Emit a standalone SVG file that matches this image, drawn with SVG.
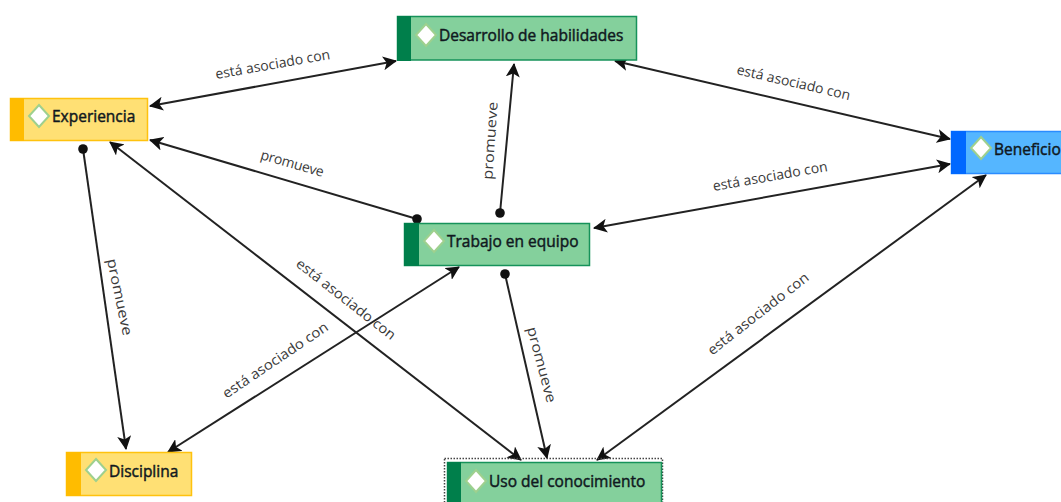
<svg xmlns="http://www.w3.org/2000/svg" width="1061" height="502" viewBox="0 0 1061 502">
<style>
.t{font-family:"Open Sans","Noto Sans","DejaVu Sans",sans-serif;font-size:15.5px;fill:#101820;stroke:#101820;stroke-width:.45px}
.l{font-family:"Open Sans","Noto Sans","DejaVu Sans",sans-serif;font-size:14px;fill:#3a3a3a;text-anchor:middle}
.c{fill:none;stroke:#222;stroke-width:2px}
.d{fill:#fff;stroke:#9ed08e;stroke-width:2px}
.y{fill:#ffe074;stroke:#ffc20e;stroke-width:1.5px}.yb{fill:#ffbc00}
.g{fill:#84d09c;stroke:#16925a;stroke-width:1.5px}.gb{fill:#007f4b}
.b{fill:#55b6ff;stroke:#2a8cff;stroke-width:1.5px}.bb{fill:#0068ff}
</style>
<defs>
<marker id="a" viewBox="0 0 14 14" refX="13" refY="7" markerWidth="14" markerHeight="14" markerUnits="userSpaceOnUse" orient="auto-start-reverse"><path d="M0 0L14 7L0 14L3.500 7Z" fill="#111"/></marker>
<marker id="o" viewBox="0 0 10 10" refX="5" refY="5" markerWidth="10" markerHeight="10" markerUnits="userSpaceOnUse"><circle cx="5" cy="5" r="4.800" fill="#111"/></marker>
</defs>
<g id="connectors">
<path class="c" d="M150 106L396 61" marker-start="url(#a)" marker-end="url(#a)"/>
<path class="c" d="M615 61L950 139" marker-start="url(#a)" marker-end="url(#a)"/>
<path class="c" d="M150 140L417 219" marker-start="url(#a)" marker-end="url(#o)"/>
<path class="c" d="M514 64L500 213" marker-start="url(#a)" marker-end="url(#o)"/>
<path class="c" d="M594 228L950 164" marker-start="url(#a)" marker-end="url(#a)"/>
<path class="c" d="M83 149L126 449" marker-start="url(#o)" marker-end="url(#a)"/>
<path class="c" d="M110 142L521 460" marker-start="url(#a)" marker-end="url(#a)"/>
<path class="c" d="M459 267L168 452" marker-start="url(#a)" marker-end="url(#a)"/>
<path class="c" d="M505 274L547 458" marker-start="url(#o)" marker-end="url(#a)"/>
<path class="c" d="M986 175L597 460" marker-start="url(#a)" marker-end="url(#a)"/>
<text class="l" transform="translate(273.500 69) rotate(-10)">está asociado con</text>
<text class="l" transform="translate(792.500 87) rotate(13)">está asociado con</text>
<text class="l" transform="translate(291 168) rotate(16)" textLength="65">promueve</text>
<text class="l" transform="translate(495 141) rotate(-86)" textLength="78" lengthAdjust="spacingAndGlyphs">promueve</text>
<text class="l" transform="translate(771 181) rotate(-10)">está asociado con</text>
<text class="l" transform="translate(115 298) rotate(78)" textLength="78" lengthAdjust="spacingAndGlyphs">promueve</text>
<text class="l" transform="translate(343 303) rotate(38)" textLength="122" lengthAdjust="spacingAndGlyphs">está asociado con</text>
<text class="l" transform="translate(278 364) rotate(-34)" textLength="124" lengthAdjust="spacingAndGlyphs">está asociado con</text>
<text class="l" transform="translate(537 366) rotate(75)" textLength="78" lengthAdjust="spacingAndGlyphs">promueve</text>
<text class="l" transform="translate(761 317.500) rotate(-38)" textLength="124" lengthAdjust="spacingAndGlyphs">está asociado con</text>
</g>
<g id="experiencia"><rect class="y" x="10.500" y="98.500" width="137" height="42"/><rect class="yb" x="10" y="98" width="14" height="43"/><path class="d" d="M39 105L49 116L39 127L29 116Z"/><text class="t" x="52" y="122">Experiencia</text></g>
<g id="desarrollo"><rect class="g" x="397.500" y="16.500" width="239" height="43.500"/><rect class="gb" x="397" y="16" width="14" height="45"/><path class="d" d="M426 24L436 35L426 46L416 35Z"/><text class="t" x="439" y="41">Desarrollo de habilidades</text></g>
<g id="trabajo"><rect class="g" x="404.500" y="223.500" width="185" height="42"/><rect class="gb" x="404" y="223" width="15" height="43"/><path class="d" d="M434 230L444 241L434 252L424 241Z"/><text class="t" x="447" y="247">Trabajo en equipo</text></g>
<g id="beneficio"><rect class="b" x="951.500" y="131.500" width="112" height="42"/><rect class="bb" x="951" y="131" width="15" height="43"/><path class="d" d="M981 137L991 148L981 159L971 148Z"/><text class="t" x="994" y="155">Beneficio</text></g>
<g id="disciplina"><rect class="y" x="66.500" y="452.500" width="125" height="43"/><rect class="yb" x="66" y="452" width="15" height="44"/><path class="d" d="M96 459L106 470L96 481L86 470Z"/><text class="t" x="109" y="477">Disciplina</text></g>
<g id="uso"><rect x="444.500" y="458.500" width="218" height="50" fill="none" stroke="#444" stroke-width="1.500" stroke-dasharray="1.500 1.500"/><rect class="g" x="447.500" y="462.500" width="214" height="44"/><rect class="gb" x="447" y="462" width="14" height="46"/><path class="d" d="M476 470L486 481L476 492L466 481Z"/><text class="t" x="489" y="487">Uso del conocimiento</text></g>
</svg>
